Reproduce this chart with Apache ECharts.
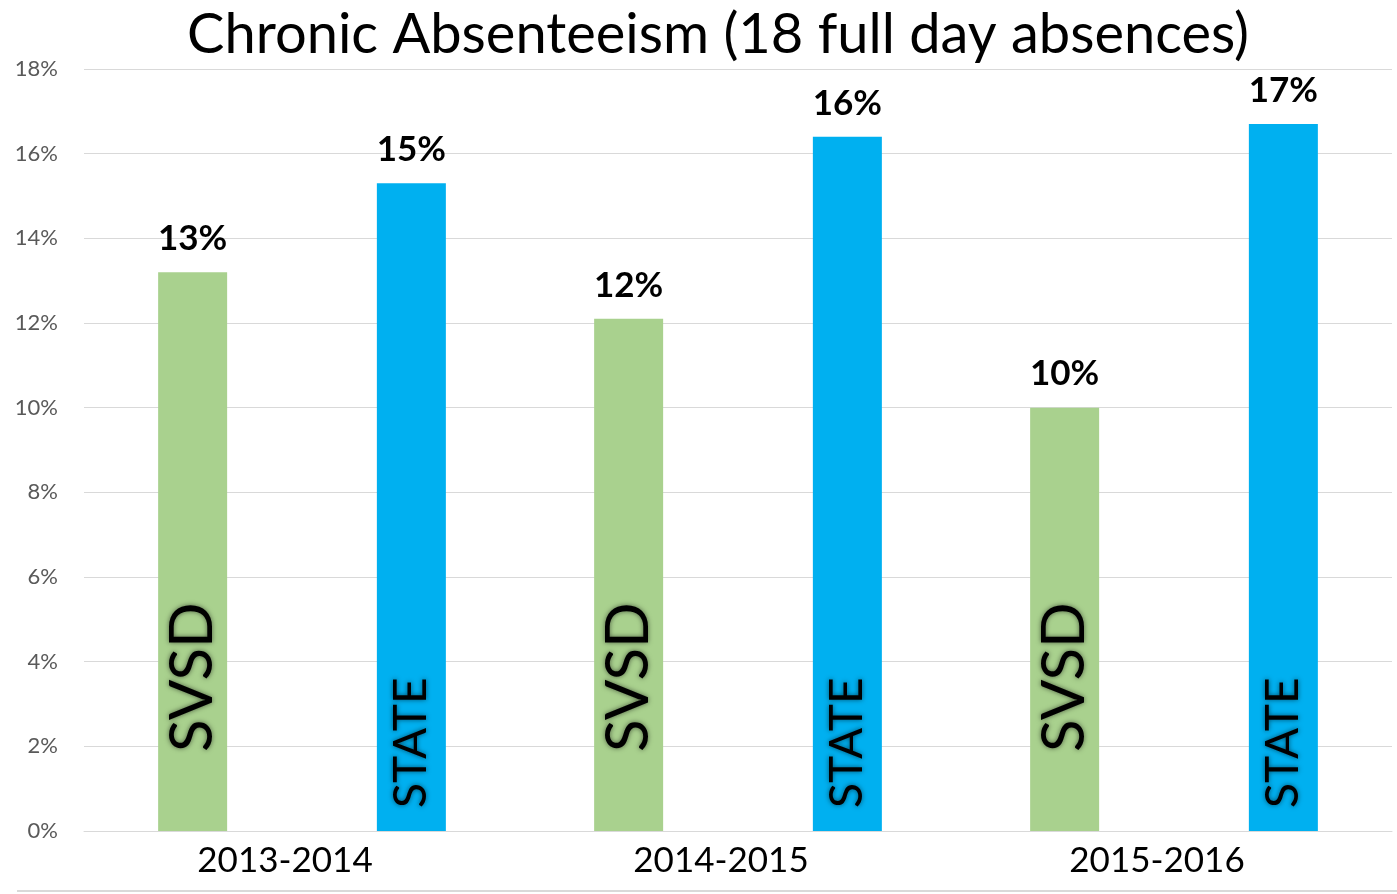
<!DOCTYPE html>
<html><head><meta charset="utf-8">
<script src="https://cdn.jsdelivr.net/npm/echarts@6/dist/echarts.min.js"></script>
<style>html,body{margin:0;padding:0;background:#fff}#c{width:1397px;height:894px}</style>
</head><body><div id="c"></div>
<script>
const title = 'Chronic Absenteeism (18 full day absences)';
const categories = ['2013-2014', '2014-2015', '2015-2016'];
const svsdName = 'SVSD';
const stateName = 'STATE';
const svsdValues = [13.2, 12.1, 10.0];
const stateValues = [15.3, 16.4, 16.7];
const yTicks = { min: 0, max: 18, interval: 2 };

const FONT = 'Lato';
const chart = echarts.init(document.getElementById('c'));
const barW = 69, gap = '217%';
function nameLabel(dist, size) {
  return { show: true, position: 'insideBottom', distance: dist, rotate: 90, align: 'left', verticalAlign: 'middle',
    formatter: '{a}', fontFamily: FONT, fontSize: size, color: '#000',
    textShadowColor: 'rgba(0,0,0,0.55)', textShadowBlur: 5 };
}
const valueLabel = { show: true, position: 'top', distance: 16, formatter: p => Math.round(p.value) + '%',
  fontFamily: FONT, fontWeight: 'bold', fontSize: 35, color: '#000' };
chart.setOption({
  animation: false,
  backgroundColor: '#fff',
  title: { text: title, left: 182, top: 2, textStyle: { fontFamily: FONT, fontWeight: 'normal', fontSize: 56, color: '#000' } },
  grid: { left: 84, right: 5, top: 69, bottom: 63 },
  xAxis: [
    { type: 'category', data: categories, axisTick: { show: false },
      axisLine: { lineStyle: { color: '#d9d9d9' } },
      axisLabel: { fontFamily: FONT, fontSize: 35, color: '#000', margin: 12, padding: [0, 34, 0, 0] } },
    { type: 'category', data: categories, show: false, position: 'bottom' }
  ],
  yAxis: { type: 'value', min: yTicks.min, max: yTicks.max, interval: yTicks.interval,
    axisLabel: { formatter: '{value}%', fontFamily: FONT, fontSize: 22, color: '#595959', margin: 26 },
    splitLine: { lineStyle: { color: '#d9d9d9' } }, axisLine: { show: false }, axisTick: { show: false } },
  graphic: [{ type: 'line', shape: { x1: 17, y1: 891, x2: 1397, y2: 891 }, style: { stroke: '#d9d9d9', lineWidth: 2 } }],
  series: [
    { name: svsdName, type: 'bar', data: svsdValues, barWidth: barW, barGap: gap, itemStyle: { color: '#A9D18E' }, label: nameLabel(79, 60) },
    { name: stateName, type: 'bar', data: stateValues, barWidth: barW, barGap: gap, itemStyle: { color: '#00B0F0' }, label: nameLabel(23, 46) },
    { name: svsdName + ' value', type: 'bar', xAxisIndex: 1, data: svsdValues, barWidth: barW, barGap: gap, itemStyle: { color: 'rgba(0,0,0,0)' }, label: valueLabel, silent: true },
    { name: stateName + ' value', type: 'bar', xAxisIndex: 1, data: stateValues, barWidth: barW, barGap: gap, itemStyle: { color: 'rgba(0,0,0,0)' }, label: valueLabel, silent: true }
  ]
});
</script></body></html>
